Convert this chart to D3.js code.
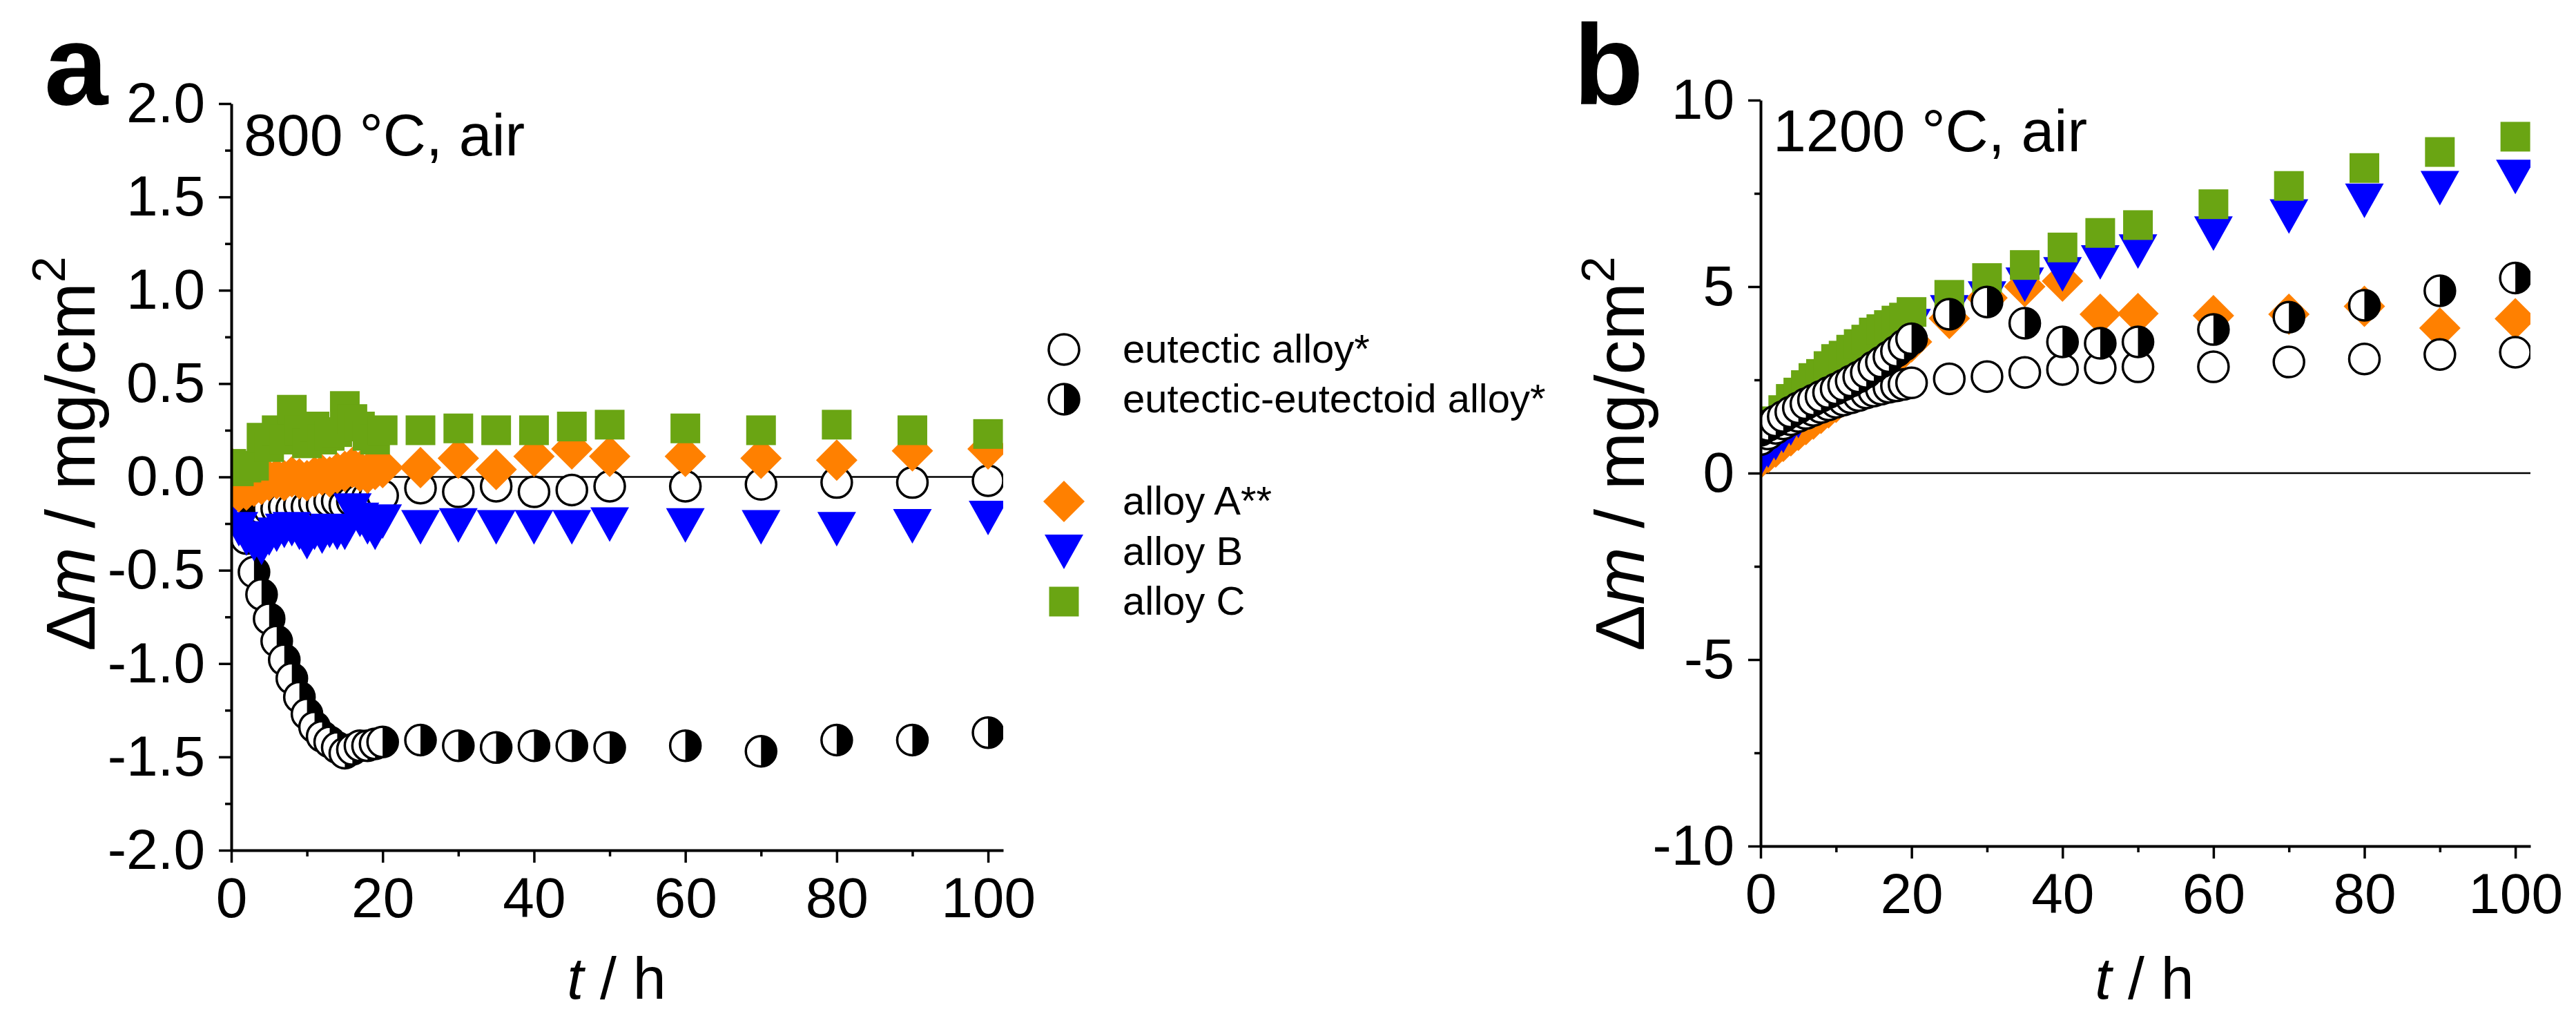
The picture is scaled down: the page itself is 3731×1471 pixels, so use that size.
<!DOCTYPE html>
<html>
<head>
<meta charset="utf-8">
<script src="https://cdn.jsdelivr.net/npm/d3@7"></script>
<style>
  body { margin: 0; background: #fff; }
  svg { display: block; }
  text { font-family: "Liberation Sans", Arial, sans-serif; }
</style>
</head>
<body>
<svg id="chart" width="3731" height="1471"></svg>
<script>
// sampling times (h)
const times = [0, 1, 2, 3, 4, 5, 6, 7, 8, 9, 10, 11, 12, 13, 14, 15, 16, 17, 18, 19, 20,
               25, 30, 35, 40, 45, 50, 60, 70, 80, 90, 100];

// 800 °C, mass change in mg/cm2
const eutectic800 = [-0.02, -0.10, -0.14, -0.16, -0.17, -0.17, -0.17, -0.16, -0.17, -0.15, -0.16,
                     -0.14, -0.15, -0.13, -0.13, -0.15, -0.13, -0.12, -0.11, -0.10, -0.10,
                     -0.06, -0.08, -0.05, -0.08, -0.07, -0.05, -0.05, -0.04, -0.03, -0.03, -0.02];
const eutEutectoid800 = [-0.05, -0.18, -0.33, -0.51, -0.63, -0.76, -0.88, -0.98, -1.08, -1.18, -1.27,
                         -1.34, -1.39, -1.42, -1.45, -1.48, -1.46, -1.44, -1.44, -1.43, -1.42,
                         -1.41, -1.44, -1.45, -1.44, -1.44, -1.45, -1.44, -1.47, -1.41, -1.41, -1.37];
const alloyA800 = [0.05, -0.08, -0.07, -0.05, -0.04, -0.02, -0.01, -0.02, 0.00, -0.01, -0.02,
                   0.00, 0.01, 0.00, 0.02, 0.03, 0.05, 0.03, 0.02, 0.04, 0.05,
                   0.05, 0.10, 0.04, 0.11, 0.15, 0.11, 0.11, 0.10, 0.09, 0.14, 0.15];
const alloyB800 = [-0.15, -0.28, -0.33, -0.36, -0.38, -0.33, -0.31, -0.29, -0.28, -0.30, -0.35,
                   -0.30, -0.32, -0.29, -0.30, -0.30, -0.18, -0.23, -0.27, -0.30, -0.24,
                   -0.27, -0.26, -0.27, -0.27, -0.27, -0.255, -0.26, -0.27, -0.28, -0.265, -0.22];
const alloyC800 = [0.07, 0.03, 0.05, 0.06, 0.21, 0.16, 0.25, 0.20, 0.36, 0.25, 0.18,
                   0.27, 0.20, 0.22, 0.24, 0.38, 0.31, 0.27, 0.22, 0.20, 0.25,
                   0.25, 0.26, 0.25, 0.25, 0.27, 0.28, 0.26, 0.25, 0.28, 0.25, 0.23];

// 1200 °C
const eutectic1200 = [0.90, 1.05, 1.20, 1.32, 1.43, 1.52, 1.60, 1.68, 1.76, 1.83, 1.90,
                      1.96, 2.02, 2.08, 2.15, 2.20, 2.25, 2.30, 2.34, 2.38, 2.42,
                      2.53, 2.59, 2.70, 2.78, 2.82, 2.85, 2.85, 2.98, 3.06, 3.18, 3.24];
const eutEutectoid1200 = [1.15, 1.28, 1.40, 1.52, 1.64, 1.75, 1.86, 1.96, 2.06, 2.16, 2.26,
                          2.36, 2.47, 2.58, 2.70, 2.85, 2.98, 3.12, 3.27, 3.43, 3.60,
                          4.26, 4.59, 4.02, 3.52, 3.48, 3.52, 3.85, 4.18, 4.50, 4.89, 5.23];
const alloyA1200 = [0.40, 0.55, 0.70, 0.85, 1.00, 1.15, 1.30, 1.45, 1.60, 1.75, 1.90,
                    2.05, 2.20, 2.35, 2.50, 2.68, 2.87, 3.02, 3.18, 3.34, 3.52,
                    4.15, 4.70, 5.00, 5.15, 4.26, 4.28, 4.22, 4.26, 4.47, 3.89, 4.14];
const alloyB1200 = [0.37, 0.60, 0.80, 1.00, 1.20, 1.40, 1.60, 1.80, 1.98, 2.15, 2.30,
                    2.45, 2.60, 2.75, 2.90, 3.05, 3.20, 3.38, 3.55, 3.75, 3.94,
                    4.31, 4.68, 5.05, 5.33, 5.65, 5.94, 6.42, 6.88, 7.30, 7.64, 7.94];
const alloyC1200 = [1.05, 1.20, 1.39, 1.69, 1.99, 2.16, 2.36, 2.55, 2.66, 2.87, 3.06,
                    3.15, 3.31, 3.46, 3.58, 3.77, 3.86, 3.97, 4.09, 4.17, 4.32,
                    4.78, 5.23, 5.58, 6.05, 6.44, 6.65, 7.21, 7.70, 8.18, 8.61, 9.02];

const xTicks = [0, 20, 40, 60, 80, 100];
const xMinorTicks = [10, 30, 50, 70, 90];
const yTicks800 = [-2, -1.5, -1, -0.5, 0, 0.5, 1, 1.5, 2];
const yMinor800 = [-1.75, -1.25, -0.75, -0.25, 0.25, 0.75, 1.25, 1.75];
const yTicks1200 = [-10, -5, 0, 5, 10];
const yMinor1200 = [-7.5, -2.5, 2.5, 7.5];

const legendLabels = ['eutectic alloy*', 'eutectic-eutectoid alloy*', 'alloy A**', 'alloy B', 'alloy C'];
const legendTypes = ['open', 'half', 'diamond', 'tri', 'square'];

const ORANGE = '#ff8000', BLUE = '#0000ff', GREEN = '#6aa513';
const FONT = '"Liberation Sans", Arial, sans-serif';

const svg = d3.select('#chart');
svg.append('rect').attr('width', 3731).attr('height', 1471).attr('fill', '#fff');

function addMarker(g, type) {
  if (type === 'open') {
    g.append('circle').attr('r', 22).attr('fill', '#fff').attr('stroke', '#000').attr('stroke-width', 3.5);
  } else if (type === 'half') {
    g.append('circle').attr('r', 22).attr('fill', '#fff');
    g.append('path').attr('d', 'M0,-22A22,22 0 0 1 0,22Z').attr('fill', '#000');
    g.append('circle').attr('r', 22).attr('fill', 'none').attr('stroke', '#000').attr('stroke-width', 3.5);
  } else if (type === 'diamond') {
    g.append('path').attr('d', 'M0,-30L30,0L0,30L-30,0Z').attr('fill', ORANGE);
  } else if (type === 'tri') {
    g.append('path').attr('d', 'M-28,-25L28,-25L0,25Z').attr('fill', BLUE);
  } else if (type === 'square') {
    g.append('rect').attr('x', -21.5).attr('y', -21.5).attr('width', 43).attr('height', 43).attr('fill', GREEN);
  }
}

function drawPanel(p) {
  const x = d3.scaleLinear().domain([0, 102]).range([p.x0, p.x1]);
  const y = d3.scaleLinear().domain(p.yDomain).range([p.yBottom, p.yTop]);
  const g = svg.append('g');

  svg.append('clipPath').attr('id', p.id + '-clip')
    .append('rect').attr('x', p.x0).attr('y', p.yTop - 60)
    .attr('width', p.x1 - p.x0).attr('height', p.yBottom - p.yTop + 120);

  // zero line
  g.append('line').attr('x1', p.x0).attr('x2', p.x1).attr('y1', y(0)).attr('y2', y(0))
    .attr('stroke', '#000').attr('stroke-width', 2.5);

  const plot = g.append('g').attr('clip-path', `url(#${p.id}-clip)`);
  p.series.forEach(s => {
    plot.append('g').selectAll('g')
      .data(s.values.map((v, i) => [times[i], v]))
      .join('g')
      .attr('transform', d => `translate(${x(d[0])},${y(d[1])})`)
      .each(function() { addMarker(d3.select(this), s.type); });
  });

  // axes
  const styleAxis = (sel) => {
    sel.attr('font-family', FONT).attr('font-size', 82);
    sel.select('.domain').attr('stroke-width', 4);
    sel.selectAll('.tick line').attr('stroke-width', 3.5);
    sel.selectAll('.tick text').attr('fill', '#000');
  };

  g.append('g').attr('transform', `translate(0,${p.yBottom})`)
    .call(d3.axisBottom(x).tickValues(xMinorTicks).tickSize(9).tickSizeOuter(0).tickFormat(''))
    .call(s => { s.select('.domain').remove(); s.selectAll('.tick line').attr('stroke-width', 3.5); });
  g.append('g').attr('transform', `translate(0,${p.yBottom})`)
    .call(d3.axisBottom(x).tickValues(xTicks).tickSize(18).tickPadding(21).tickSizeOuter(0).tickFormat(d => String(d)))
    .call(styleAxis);

  g.append('g').attr('transform', `translate(${p.x0},0)`)
    .call(d3.axisLeft(y).tickValues(p.yMinor).tickSize(9).tickSizeOuter(0).tickFormat(''))
    .call(s => { s.select('.domain').remove(); s.selectAll('.tick line').attr('stroke-width', 3.5); });
  g.append('g').attr('transform', `translate(${p.x0},0)`)
    .call(d3.axisLeft(y).tickValues(p.yTicks).tickSize(18).tickPadding(20).tickSizeOuter(0).tickFormat(p.fmt))
    .call(styleAxis);

  // axis titles
  const yt = g.append('text')
    .attr('transform', `translate(${p.yTitleX},657) rotate(-90)`)
    .attr('text-anchor', 'middle').attr('font-size', 100);
  yt.append('tspan').text('Δ');
  yt.append('tspan').attr('font-style', 'italic').text('m');
  yt.append('tspan').text(' / mg/cm');
  yt.append('tspan').attr('font-size', 68).attr('dy', -43).text('2');

  const xt = g.append('text').attr('x', p.xTitleX).attr('y', 1446)
    .attr('text-anchor', 'middle').attr('font-size', 86);
  xt.append('tspan').attr('font-style', 'italic').text('t');
  xt.append('tspan').text(' / h');

  // annotation + panel letter
  g.append('text').attr('x', p.noteX).attr('y', p.noteY).attr('font-size', 86).text(p.note);
  g.append('text').attr('x', p.letterX).attr('y', 151).attr('font-size', 166)
    .attr('font-weight', 'bold').text(p.letter);
}

drawPanel({
  id: 'a', letter: 'a', letterX: 64,
  x0: 335, x1: 1453, yTop: 150, yBottom: 1231,
  yDomain: [-2, 2], yTicks: yTicks800, yMinor: yMinor800, fmt: d => d.toFixed(1),
  yTitleX: 137, xTitleX: 893,
  note: '800 °C, air', noteX: 353, noteY: 225,
  series: [
    { values: eutectic800, type: 'open' },
    { values: eutEutectoid800, type: 'half' },
    { values: alloyB800, type: 'tri' },
    { values: alloyA800, type: 'diamond' },
    { values: alloyC800, type: 'square' }
  ]
});

drawPanel({
  id: 'b', letter: 'b', letterX: 2279,
  x0: 2550, x1: 3665, yTop: 145, yBottom: 1225,
  yDomain: [-10, 10], yTicks: yTicks1200, yMinor: yMinor1200, fmt: d => String(d),
  yTitleX: 2381, xTitleX: 3106,
  note: '1200 °C, air', noteX: 2568, noteY: 219,
  series: [
    { values: alloyA1200, type: 'diamond' },
    { values: alloyB1200, type: 'tri' },
    { values: alloyC1200, type: 'square' },
    { values: eutectic1200, type: 'open' },
    { values: eutEutectoid1200, type: 'half' }
  ]
});

// legend
const legendRowY = [506, 578, 726, 799, 871];
const legend = svg.append('g');
legendLabels.forEach((label, i) => {
  const row = legend.append('g').attr('transform', `translate(1541,${legendRowY[i]})`);
  addMarker(row, legendTypes[i]);
  row.append('text').attr('x', 85).attr('y', 19).attr('font-size', 58).text(label);
});
</script>
</body>
</html>
